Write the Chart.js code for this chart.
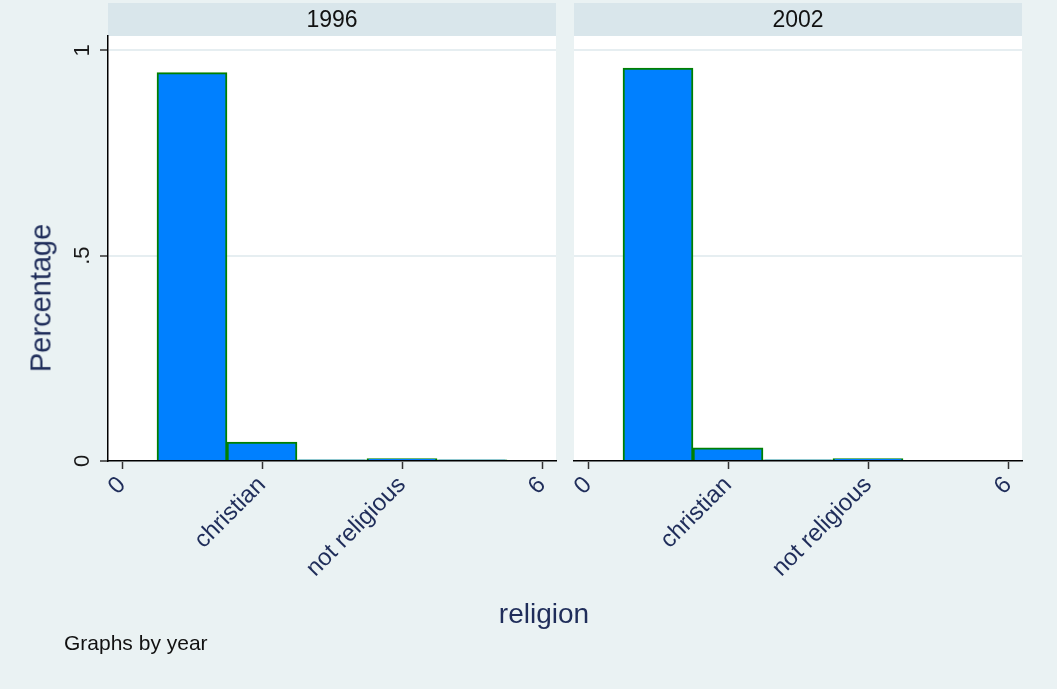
<!DOCTYPE html>
<html>
<head>
<meta charset="utf-8">
<script src="https://cdn.jsdelivr.net/npm/chart.js@4"></script>
<style>
  html, body { margin: 0; padding: 0; background: #eaf2f3; }
  body { width: 1057px; height: 689px; position: relative; overflow: hidden;
         font-family: "Liberation Sans", Arial, Helvetica, sans-serif; }
  canvas { position: absolute; top: 0; }
  #c1996 { left: 0; }
  #c2002 { left: 566px; }
  .ytitle { position: absolute; left: 41px; top: 298px; transform: translate(-50%, -50%) rotate(-90deg);
            font-size: 29px; color: #1f2d5a; white-space: nowrap; }
  .xtitle { position: absolute; left: 544px; top: 598px; transform: translateX(-50%);
            font-size: 28px; color: #1f2d5a; white-space: nowrap; }
  .note { position: absolute; left: 64px; top: 631px; font-size: 21px; color: #111; white-space: nowrap; }
</style>
</head>
<body>
<canvas id="c1996" width="566" height="689"></canvas>
<canvas id="c2002" width="491" height="689"></canvas>
<div class="ytitle">Percentage</div>
<div class="xtitle">religion</div>
<div class="note">Graphs by year</div>
<script>
// Religion codes (bin centres) and share of respondents in each bin, per survey year
const religionBins = [1, 2, 3, 4, 5];
const share1996 = [0.946, 0.046, 0.003, 0.006, 0.003];
const share2002 = [0.957, 0.032, 0.003, 0.006, 0];

// Axis tick values and their labels
const xTickValues = [0, 2, 4, 6];
const xTickLabels = ['0', 'christian', 'not religious', '6'];
const yTickValues = [0, 0.5, 1];
const yTickLabels = ['0', '.5', '1'];

const FONT = '"Liberation Sans", Arial, Helvetica, sans-serif';
const NAVY = '#1f2d5a';

// Paints the white plot region and the grey-blue year strip above it
const panelBackground = {
  id: 'panelBackground',
  beforeDraw(chart, args, opts) {
    const { ctx, chartArea: a } = chart;
    ctx.save();
    ctx.fillStyle = '#ffffff';
    ctx.fillRect(a.left, a.top, a.right - a.left, a.bottom - a.top);
    ctx.fillStyle = '#d9e6eb';
    ctx.fillRect(a.left, 3, a.right - a.left, a.top - 3);
    ctx.fillStyle = '#111111';
    ctx.font = '23px ' + FONT;
    ctx.textAlign = 'center';
    ctx.textBaseline = 'middle';
    ctx.fillText(opts.label, (a.left + a.right) / 2, (3 + a.top) / 2 + 1);
    ctx.restore();
  }
};

function makePanel(canvasId, year, values, showY, padding) {
  const points = religionBins.map((b, i) => ({ x: b, y: values[i] }));
  return new Chart(document.getElementById(canvasId), {
    type: 'bar',
    data: {
      datasets: [{
        data: points,
        backgroundColor: '#0080ff',
        borderColor: '#008000',
        borderWidth: 2,
        barPercentage: 1,
        categoryPercentage: 1,
        grouped: false
      }]
    },
    options: {
      responsive: false,
      devicePixelRatio: 1,
      animation: false,
      layout: { padding: padding },
      plugins: {
        legend: { display: false },
        tooltip: { enabled: false },
        panelBackground: { label: year }
      },
      scales: {
        x: {
          type: 'linear',
          offset: false,
          min: -0.2,
          max: 6.2,
          afterBuildTicks: s => { s.ticks = xTickValues.map(v => ({ value: v })); },
          afterFit: s => { s.height = 228; },
          border: { display: true, color: '#000000', width: 1.5 },
          grid: { offset: false, drawOnChartArea: false, drawTicks: true, tickLength: 8, tickColor: '#333333', tickWidth: 1.5 },
          ticks: {
            autoSkip: false,
            minRotation: 45,
            maxRotation: 45,
            padding: 2,
            color: NAVY,
            font: { family: FONT, size: 24 },
            callback: v => xTickLabels[xTickValues.indexOf(v)]
          }
        },
        y: {
          type: 'linear',
          min: 0,
          max: 1.035,
          afterBuildTicks: s => { s.ticks = yTickValues.map(v => ({ value: v })); },
          afterFit: s => { s.width = showY ? 108 : 0; },
          border: { display: showY, color: '#000000', width: 1.5 },
          grid: {
            color: '#e6eef1',
            lineWidth: 2,
            drawTicks: showY,
            tickLength: showY ? 8 : 0,
            tickColor: '#333333',
            tickWidth: 1.5
          },
          ticks: {
            display: showY,
            minRotation: 90,
            maxRotation: 90,
            crossAlign: 'center',
            padding: 8,
            color: '#1a1a1a',
            font: { family: FONT, size: 22 },
            callback: v => yTickLabels[yTickValues.indexOf(v)]
          }
        }
      }
    },
    plugins: [panelBackground]
  });
}

makePanel('c1996', '1996', share1996, true, { top: 36, right: 10, left: 0, bottom: 0 });
makePanel('c2002', '2002', share2002, false, { top: 36, right: 35, left: 8, bottom: 0 });
</script>
</body>
</html>
